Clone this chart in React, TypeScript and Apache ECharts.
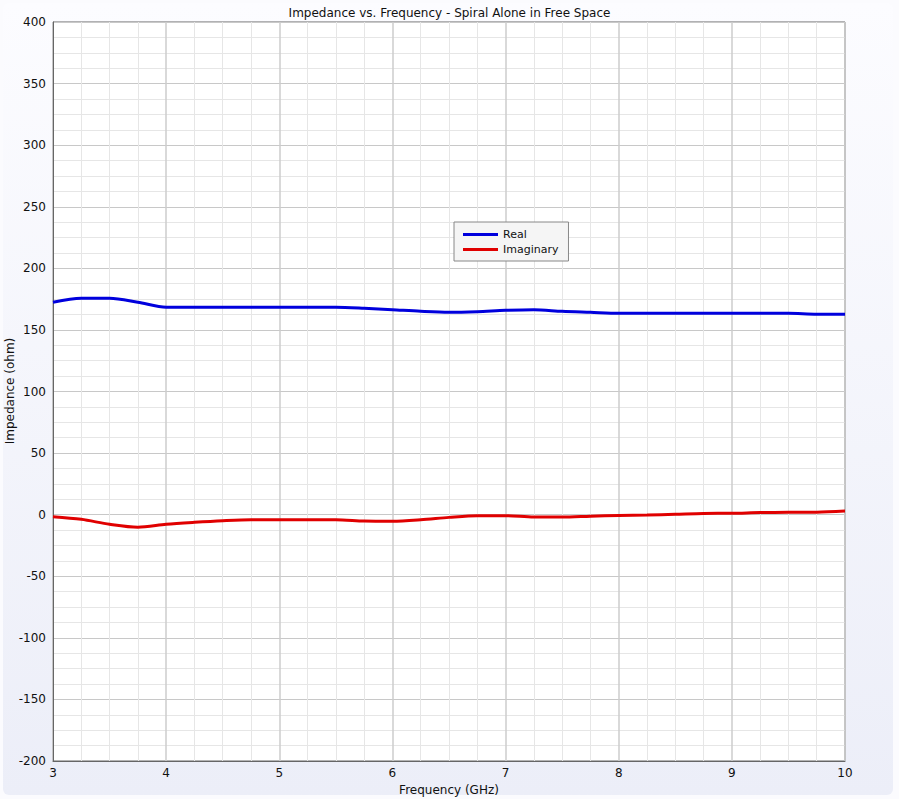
import React, { useEffect, useRef } from "react";
import * as echarts from "echarts";

const freq = [3.0, 3.25, 3.5, 3.75, 4.0, 4.25, 4.5, 4.75, 5.0, 5.25, 5.5, 5.75, 6.0, 6.25, 6.5, 6.75, 7.0, 7.25, 7.5, 7.75, 8.0, 8.25, 8.5, 8.75, 9.0, 9.25, 9.5, 9.75, 10.0];
const realValues = [172.4, 175.7, 175.7, 172.5, 168.4, 168.4, 168.4, 168.4, 168.4, 168.4, 168.4, 167.6, 166.4, 165.1, 164.3, 164.8, 165.9, 166.4, 165.1, 164.3, 163.5, 163.5, 163.5, 163.5, 163.5, 163.5, 163.5, 162.7, 162.7];
const imagValues = [-1.6, -3.8, -7.8, -10.2, -7.8, -6.2, -4.9, -4.1, -4.1, -4.1, -4.1, -5.2, -5.4, -4.2, -2.2, -0.8, -0.8, -1.9, -1.9, -1.2, -0.6, -0.3, 0.3, 1.0, 1.1, 1.7, 1.9, 2.0, 3.0];
const seriesNames = ["Real", "Imaginary"];
const titleText = "Impedance vs. Frequency - Spiral Alone in Free Space";
const xAxisName = "Frequency (GHz)";
const yAxisName = "Impedance (ohm)";

export default function App() {
  const ref = useRef<HTMLDivElement>(null);
  useEffect(() => {
    if (!ref.current) return;
    const chart = echarts.init(ref.current, null, { renderer: "svg" });
    const font = "DejaVu Sans";
    chart.setOption({
      animation: false,
      backgroundColor: "transparent",
      textStyle: { fontFamily: font },
      title: {
        text: titleText,
        left: "center",
        top: 2,
        textStyle: { fontSize: 12, fontWeight: "normal", color: "#111", fontFamily: font },
      },
      legend: {
        orient: "vertical",
        left: 454,
        top: 222,
        icon: "rect",
        itemWidth: 35,
        itemHeight: 3,
        itemGap: 4,
        padding: [7, 10, 6, 9],
        backgroundColor: "#f5f5f5",
        borderColor: "#888",
        borderWidth: 1,
        borderRadius: 0,
        textStyle: { fontSize: 11, color: "#111", fontFamily: font },
        data: seriesNames,
      },
      graphic: [
        {
          type: "text",
          x: 10,
          y: 391,
          rotation: Math.PI / 2,
          style: {
            text: yAxisName,
            fontSize: 12,
            fontFamily: font,
            fill: "#111",
            textAlign: "center",
            textVerticalAlign: "middle",
          },
        },
      ],
      grid: {
        left: 53,
        right: 54,
        top: 22,
        bottom: 38,
        show: true,
        borderColor: "#666",
        borderWidth: 1,
        backgroundColor: "#fff",
        containLabel: false,
        outerBoundsMode: "none",
      },
      xAxis: {
        type: "value",
        min: 3,
        max: 10,
        interval: 1,
        name: xAxisName,
        nameLocation: "middle",
        nameGap: 19,
        nameTextStyle: { fontSize: 12, color: "#111", fontFamily: font },
        axisLine: { show: true, onZero: false, lineStyle: { color: "#666" } },
        axisTick: { show: false },
        axisLabel: { fontSize: 12, color: "#111", margin: 6, fontFamily: font },
        splitLine: { show: true, lineStyle: { color: "#cccccc", width: 1.5 } },
        minorTick: { show: false, splitNumber: 4 },
        minorSplitLine: { show: true, lineStyle: { color: "#e6e6e6", width: 1 } },
      },
      yAxis: {
        type: "value",
        min: -200,
        max: 400,
        interval: 50,
        axisLine: { show: true, onZero: false, lineStyle: { color: "#666" } },
        axisTick: { show: false },
        axisLabel: { fontSize: 12, color: "#111", margin: 7, fontFamily: font },
        splitLine: { show: true, lineStyle: { color: "#c8c8c8", width: 1 } },
        minorTick: { show: false, splitNumber: 4 },
        minorSplitLine: { show: true, lineStyle: { color: "#e6e6e6", width: 1 } },
      },
      series: [
        {
          name: seriesNames[0],
          type: "line",
          data: freq.map((f, i) => [f, realValues[i]]),
          showSymbol: false,
          smooth: 0.3,
          lineStyle: { color: "#0000dd", width: 3 },
          itemStyle: { color: "#0000dd" },
        },
        {
          name: seriesNames[1],
          type: "line",
          data: freq.map((f, i) => [f, imagValues[i]]),
          showSymbol: false,
          smooth: 0.3,
          lineStyle: { color: "#e00000", width: 3 },
          itemStyle: { color: "#e00000" },
        },
      ],
    });
    return () => chart.dispose();
  }, []);
  return (
    <div
      style={{
        position: "fixed",
        left: 0,
        top: 0,
        width: 899,
        height: 799,
        background: "#fbfbfe",
      }}
    >
      <div
        style={{
          position: "absolute",
          left: 3,
          top: 3,
          width: 890,
          height: 792,
          borderRadius: 6,
          background: "linear-gradient(to bottom, #fcfcff 0%, #eceef8 100%)",
        }}
      />
      <div ref={ref} style={{ position: "absolute", left: 0, top: 0, width: 899, height: 799 }} />
    </div>
  );
}
